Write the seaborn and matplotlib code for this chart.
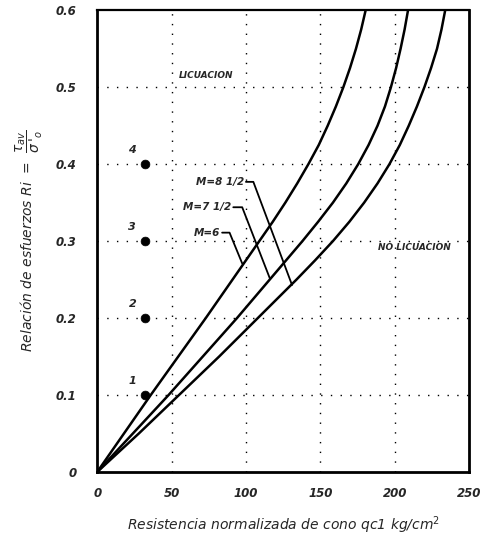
import matplotlib
matplotlib.use("Agg")
import matplotlib.pyplot as plt
import seaborn as sns
import pandas as pd

# Stress ratio levels at which each boundary curve was read
ratio_levels = [0.0, 0.05, 0.1, 0.15, 0.2, 0.25, 0.275, 0.3, 0.325, 0.35,
                0.375, 0.4, 0.425, 0.45, 0.475, 0.5, 0.525, 0.55, 0.575, 0.6]
# Normalized cone resistance on each boundary curve (kg/cm2)
qc1_m6 = [0, 18, 36, 54.5, 73, 91, 100, 109, 118, 126.5,
          134.5, 142, 149, 155, 160.5, 165.5, 170, 174, 177.5, 180.5]
qc1_m75 = [0, 24, 48, 71, 94, 116, 127, 138, 148.5, 158.5,
           167.5, 175.5, 182.5, 188.5, 193.5, 197.5, 201, 204, 206.7, 209]
qc1_m85 = [0, 28, 55, 82, 108, 134, 146.5, 158.5, 169.5, 179.5,
           188.5, 196.5, 203.5, 209.5, 215, 220, 224.5, 228.5, 231.5, 234]
curve_names = ["M=6", "M=7 1/2", "M=8 1/2"]

# Numbered case points
case_ids = ["1", "2", "3", "4"]
case_qc1 = [32, 32, 32, 32]
case_ratio = [0.1, 0.2, 0.3, 0.4]

x_ticks = [0, 50, 100, 150, 200, 250]
x_tick_labels = ["0", "50", "100", "150", "200", "250"]
y_ticks = [0, 0.1, 0.2, 0.3, 0.4, 0.5, 0.6]
y_tick_labels = ["0", "0.1", "0.2", "0.3", "0.4", "0.5", "0.6"]

curves = pd.concat([
    pd.DataFrame({"qc1": q, "ratio": ratio_levels, "M": name})
    for q, name in zip([qc1_m6, qc1_m75, qc1_m85], curve_names)
], ignore_index=True)
cases = pd.DataFrame({"qc1": case_qc1, "ratio": case_ratio, "id": case_ids})

sns.set_theme(style="white")
plt.rcParams["font.family"] = ["DejaVu Sans"]
plt.rcParams["mathtext.fontset"] = "dejavusans"

fig = plt.figure(figsize=(4.86, 5.4), dpi=100)
ax = fig.add_axes([0.2, 0.126, 0.765, 0.855])

# sparse dotted grid
for gx in [50, 100, 150, 200]:
    ax.axvline(gx, color="black", lw=1.0, ls=(0, (1, 6)), zorder=0)
for gy in [0.1, 0.2, 0.3, 0.4, 0.5]:
    ax.axhline(gy, color="black", lw=1.0, ls=(0, (1, 6)), zorder=0)

sns.lineplot(data=curves, x="qc1", y="ratio", units="M", estimator=None,
             sort=False, color="black", lw=1.8, ax=ax, legend=False)
sns.scatterplot(data=cases, x="qc1", y="ratio", color="black", s=40,
                edgecolor="black", ax=ax, legend=False, zorder=5)
for cid, cx, cy in zip(case_ids, case_qc1, case_ratio):
    ax.annotate(cid, (cx, cy), xytext=(-9, 8), textcoords="offset points",
                fontsize=8, fontstyle="italic", fontweight="bold", ha="center")

# curve labels with hooked leader lines
labels = [
    ("M=8 1/2", (99, 0.377), [(100, 105, 131), (0.377, 0.377, 0.243)]),
    ("M=7 1/2", (90, 0.344), [(91.5, 97.5, 116), (0.344, 0.344, 0.252)]),
    ("M=6", (83, 0.311), [(84, 89, 97.5), (0.311, 0.311, 0.271)]),
]
for txt, (tx, ty), (lx, ly) in labels:
    ax.text(tx, ty, txt, ha="right", va="center", fontsize=7.5,
            fontstyle="italic", fontweight="bold")
    ax.plot(lx, ly, color="black", lw=1.3)

ax.text(73, 0.515, "LICUACION", ha="center", va="center", fontsize=6.5,
        fontstyle="italic", fontweight="bold")
ax.text(213, 0.292, "NO LICUACION", ha="center", va="center", fontsize=6.5,
        fontstyle="italic", fontweight="bold")

ax.set_xlim(0, 250)
ax.set_ylim(0, 0.6)
ax.set_xticks(x_ticks)
ax.set_xticklabels(x_tick_labels)
ax.set_yticks(y_ticks)
ax.set_yticklabels(y_tick_labels)
ax.tick_params(length=0, labelsize=8.5)
ax.tick_params(axis="x", pad=11)
ax.tick_params(axis="y", pad=15)
for lab in ax.get_xticklabels() + ax.get_yticklabels():
    lab.set_fontstyle("italic")
    lab.set_fontweight("bold")
for side in ["left", "bottom", "right"]:
    ax.spines[side].set_linewidth(2.0)
ax.spines["top"].set_linewidth(1.6)
for sp in ax.spines.values():
    sp.set_color("black")

ax.set_xlabel("Resistencia normalizada de cono qc1 kg/cm$^2$",
              fontsize=10, fontstyle="italic", labelpad=10)
ax.set_ylabel(r"Relación de esfuerzos $\mathit{Ri}$  =  $\dfrac{\tau_{av}}{\sigma\,'_o}$",
              fontsize=10, fontstyle="italic", labelpad=8)

fig.savefig("out.png", dpi=100, facecolor="white")
